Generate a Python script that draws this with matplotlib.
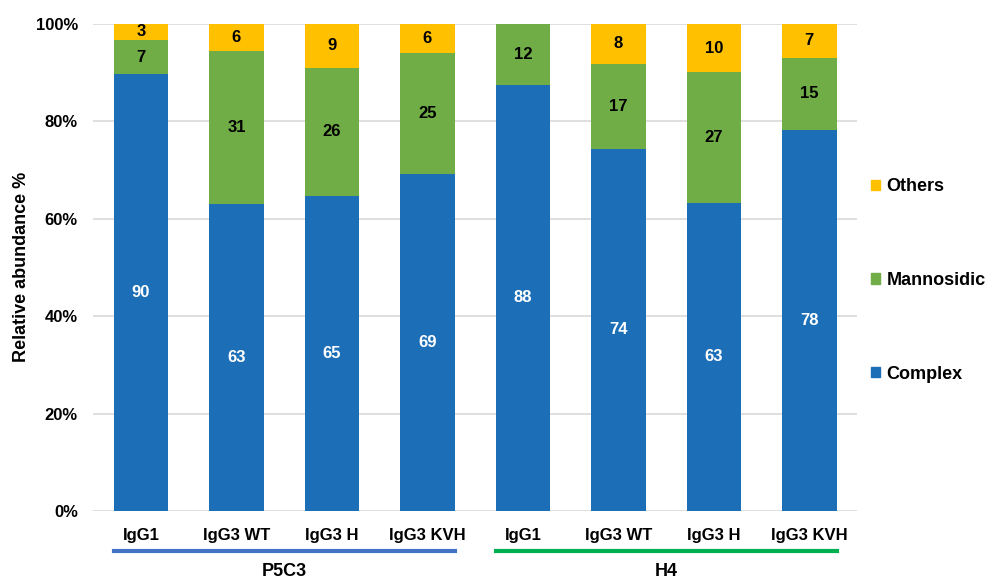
import numpy as np
import matplotlib
matplotlib.use("Agg")
import matplotlib.pyplot as plt
from matplotlib.patches import Patch
from matplotlib.transforms import blended_transform_factory

plt.rcParams['font.family'] = ['Liberation Sans', 'DejaVu Sans']
plt.rcParams['font.weight'] = 'bold'

categories = ["IgG1", "IgG3 WT", "IgG3 H", "IgG3 KVH",
              "IgG1", "IgG3 WT", "IgG3 H", "IgG3 KVH"]
complex_pct = [89.6, 63.0, 64.6, 69.2, 87.5, 74.3, 63.2, 78.2]
mannosidic_pct = [7.0, 31.4, 26.4, 24.8, 12.5, 17.4, 26.8, 14.8]
others_pct = [3.4, 5.6, 9.0, 6.0, 0.0, 8.3, 10.0, 7.0]
groups = ["P5C3", "H4"]
group_members = [[0, 1, 2, 3], [4, 5, 6, 7]]

c_blue = "#1C6EB6"
c_green = "#70AD47"
c_orange = "#FFC000"

fig = plt.figure(figsize=(9.92, 5.78), dpi=100)
ax = fig.add_axes([0.094, 0.116, 0.770, 0.843])

x = np.arange(len(categories))
w = 0.57
complex_pct = np.array(complex_pct)
mannosidic_pct = np.array(mannosidic_pct)
others_pct = np.array(others_pct)

ax.bar(x, complex_pct, w, color=c_blue, zorder=3)
ax.bar(x, mannosidic_pct, w, bottom=complex_pct, color=c_green, zorder=3)
ax.bar(x, others_pct, w, bottom=complex_pct + mannosidic_pct, color=c_orange, zorder=3)

# segment labels
for i in range(len(x)):
    ax.text(x[i], complex_pct[i] / 2, "%d" % round(complex_pct[i]),
            ha='center', va='center', color='white', fontsize=12, fontweight='bold', zorder=4)
    ax.text(x[i], complex_pct[i] + mannosidic_pct[i] / 2, "%d" % round(mannosidic_pct[i]),
            ha='center', va='center', color='black', fontsize=12, fontweight='bold', zorder=4)
    if others_pct[i] > 0:
        ax.text(x[i], complex_pct[i] + mannosidic_pct[i] + others_pct[i] / 2,
                "%d" % round(others_pct[i]),
                ha='center', va='center', color='black', fontsize=12, fontweight='bold', zorder=4)

ax.set_xlim(-0.5, len(x) - 0.5)
ax.set_ylim(0, 100)
ax.set_yticks(np.arange(0, 101, 20))
ax.set_yticklabels(["%d%%" % v for v in range(0, 101, 20)])
ax.set_xticks(x)
ax.set_xticklabels(categories)
ax.tick_params(axis='both', length=0, labelsize=12)
ax.tick_params(axis='x', pad=12)
ax.tick_params(axis='y', pad=11)
for lab in ax.get_xticklabels() + ax.get_yticklabels():
    lab.set_fontweight('bold')
ax.grid(axis='y', color='#D9D9D9', linewidth=1.2, zorder=0)
for s in ax.spines.values():
    s.set_visible(False)
ax.set_ylabel("Relative abundance %", fontsize=13, fontweight='bold', labelpad=4)

# group lines and labels
trans = blended_transform_factory(ax.transData, ax.transAxes)
line_colors = ["#4472C4", "#00B050"]
for g, members, lc in zip(groups, group_members, line_colors):
    x0 = members[0] - w / 2
    x1 = members[-1] + w / 2
    ax.plot([x0, x1], [-0.082, -0.082], color=lc, linewidth=3, transform=trans, clip_on=False)
    ax.text((x0 + x1) / 2, -0.133, g, ha='center', va='baseline', fontsize=13,
            fontweight='bold', transform=trans)

handles = [Patch(color=c_orange), Patch(color=c_green), Patch(color=c_blue)]
fig.legend(handles, ["Others", "Mannosidic", "Complex"], loc='center left',
           bbox_to_anchor=(0.862, 0.515), frameon=False,
           handlelength=0.5, handleheight=0.5, handletextpad=0.35, labelspacing=4.25,
           prop={'weight': 'bold', 'size': 13})

fig.savefig("out.png", dpi=100)
